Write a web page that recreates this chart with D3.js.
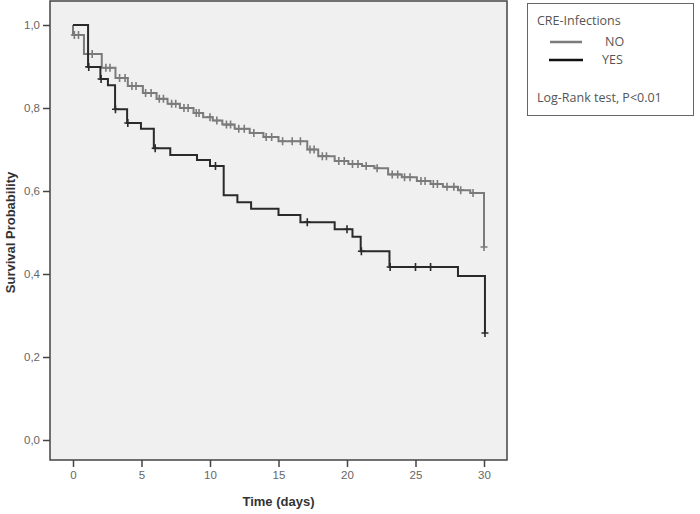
<!DOCTYPE html>
<html>
  <head>
    <meta charset="utf-8">
    <script src="https://d3js.org/d3.v7.min.js"></script>
    <style>
      body { margin: 0; background: #fff; }
      .tick text { font-family: "Liberation Sans", Arial, sans-serif; font-size: 11.5px; fill: #666; }
      .axis-title { font-family: "Liberation Sans", Arial, sans-serif; font-weight: bold; font-size: 13px; fill: #333; }
      .legend text { font-family: "Open Sans", "Liberation Sans", sans-serif; font-size: 12.5px; fill: #555; }
    </style>
  </head>
<body>
<script type="text/javascript">
  // step times (days) and survival values
  var noTimes   = [0, 0, 0.8, 2.1, 3.1, 4.0, 5.1, 6.1, 6.9, 7.8, 8.8, 9.5, 10.2, 10.9, 11.8, 12.9, 13.9, 15.0, 17.1, 17.9, 19.1, 20.1, 21.1, 22.0, 23.0, 24.0, 25.1, 26.1, 27.0, 28.1, 29.0, 30.0];
  var noSurv    = [1.0, 0.976, 0.93, 0.897, 0.872, 0.853, 0.836, 0.822, 0.81, 0.8, 0.788, 0.778, 0.77, 0.76, 0.75, 0.74, 0.73, 0.72, 0.70, 0.684, 0.672, 0.665, 0.66, 0.655, 0.64, 0.633, 0.624, 0.617, 0.61, 0.602, 0.595, 0.465];
  var noCensor  = [0.1, 0.4, 1.1, 1.4, 2.4, 2.7, 3.4, 3.8, 4.3, 4.6, 5.3, 5.7, 6.3, 6.6, 7.2, 7.5, 8.1, 8.4, 9.0, 9.2, 10.0, 10.5, 11.2, 11.5, 12.1, 12.5, 13.2, 14.1, 14.5, 15.3, 16.0, 16.6, 17.3, 17.6, 18.2, 18.5, 19.4, 19.8, 20.4, 20.8, 21.4, 22.2, 23.3, 23.7, 24.2, 24.6, 25.4, 25.7, 26.3, 26.6, 27.3, 27.8, 28.3, 29.2, 30.0];

  var yesTimes  = [0, 1.1, 2.0, 2.55, 3.07, 3.95, 4.96, 5.9, 7.1, 9.05, 10.0, 11.0, 12.0, 13.0, 15.0, 16.6, 19.1, 20.4, 21.0, 23.1, 28.1, 30.07];
  var yesSurv   = [1.0, 0.899, 0.87, 0.855, 0.797, 0.764, 0.75, 0.703, 0.687, 0.675, 0.66, 0.59, 0.573, 0.557, 0.542, 0.525, 0.508, 0.49, 0.455, 0.417, 0.395, 0.258];
  var yesCensor = [1.15, 2.05, 3.1, 4.0, 6.0, 10.4, 17.1, 20.0, 21.05, 23.15, 25.0, 26.1, 30.07];

  var xTicks = [0, 5, 10, 15, 20, 25, 30];
  var yTicks = [0, 0.2, 0.4, 0.6, 0.8, 1.0];

  var width = 700, height = 514;
  var plot = {left: 50, top: 1, right: 507, bottom: 460};

  var svg = d3.select("body").append("svg")
      .attr("width", width)
      .attr("height", height);

  var x = d3.scaleLinear().domain([0, 30]).range([73, 484]);
  var y = d3.scaleLinear().domain([0, 1]).range([440, 25]);

  // plot background
  svg.append("rect")
      .attr("x", plot.left).attr("y", plot.top)
      .attr("width", plot.right - plot.left)
      .attr("height", plot.bottom - plot.top)
      .attr("fill", "#f0f0f0")
      .attr("stroke", "#444")
      .attr("stroke-width", 1.5);

  // axes
  var fmt = function(d) { return d3.format(".1f")(d).replace(".", ","); };
  var xAxis = svg.append("g")
      .attr("transform", "translate(0," + plot.bottom + ")")
      .call(d3.axisBottom(x).tickValues(xTicks).tickSize(7).tickPadding(4));
  var yAxis = svg.append("g")
      .attr("transform", "translate(" + plot.left + ",0)")
      .call(d3.axisLeft(y).tickValues(yTicks).tickFormat(fmt).tickSize(7).tickPadding(3));
  [xAxis, yAxis].forEach(function(a) {
    a.select(".domain").remove();
    a.selectAll(".tick line").attr("stroke", "#444").attr("stroke-width", 1.5);
  });

  svg.append("text").attr("class", "axis-title")
      .attr("x", x(15)).attr("y", 506)
      .attr("text-anchor", "middle")
      .text("Time (days)");
  svg.append("text").attr("class", "axis-title")
      .attr("transform", "translate(15," + y(0.5) + ") rotate(-90)")
      .attr("text-anchor", "middle")
      .text("Survival Probability");

  function stepValue(times, surv, t) {
    var v = surv[0];
    for (var i = 0; i < times.length; i++) if (times[i] <= t) v = surv[i];
    return v;
  }

  var line = d3.line()
      .x(function(d) { return x(d[0]); })
      .y(function(d) { return y(d[1]); })
      .curve(d3.curveStepAfter);

  var series = [
    {times: noTimes, surv: noSurv, censor: noCensor, color: "#7b7b7b"},
    {times: yesTimes, surv: yesSurv, censor: yesCensor, color: "#2a2a2a"}
  ];

  series.forEach(function(s) {
    var pts = s.times.map(function(t, i) { return [t, s.surv[i]]; });
    svg.append("path")
        .datum(pts)
        .attr("d", line)
        .attr("fill", "none")
        .attr("stroke", s.color)
        .attr("stroke-width", 2);

    svg.append("g").selectAll("path")
        .data(s.censor)
        .enter().append("path")
        .attr("transform", function(t) {
          return "translate(" + x(t) + "," + y(stepValue(s.times, s.surv, t)) + ")";
        })
        .attr("d", "M-3.5,0H3.5M0,-4V4")
        .attr("stroke", s.color)
        .attr("stroke-width", 1.6);
  });

  // legend
  var lg = svg.append("g").attr("class", "legend");
  lg.append("rect")
      .attr("x", 527.5).attr("y", 3.5)
      .attr("width", 166).attr("height", 112)
      .attr("fill", "#fff")
      .attr("stroke", "#666");
  lg.append("text").attr("x", 537).attr("y", 25).text("CRE-Infections");
  lg.append("line").attr("x1", 550).attr("x2", 582).attr("y1", 42).attr("y2", 42)
      .attr("stroke", "#7b7b7b").attr("stroke-width", 2.5);
  lg.append("text").attr("x", 605).attr("y", 46).text("NO");
  lg.append("line").attr("x1", 549).attr("x2", 583).attr("y1", 60).attr("y2", 60)
      .attr("stroke", "#111").attr("stroke-width", 2.5);
  lg.append("text").attr("x", 602).attr("y", 64).text("YES");
  lg.append("text").attr("x", 537).attr("y", 102).text("Log-Rank test, P<0.01");
</script>
</body>
</html>
